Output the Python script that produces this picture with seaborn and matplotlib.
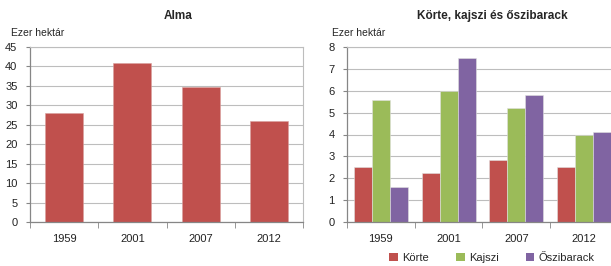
import matplotlib
matplotlib.use('Agg')
import matplotlib.pyplot as plt
import pandas as pd
import seaborn as sns
from matplotlib.patches import Patch

years = ['1959', '2001', '2007', '2012']
alma = [28.0, 41.0, 34.8, 26.0]
korte = [2.5, 2.25, 2.85, 2.5]
kajszi = [5.6, 6.0, 5.2, 4.0]
oszibarack = [1.6, 7.5, 5.8, 4.1]
fruit_names = ['Körte', 'Kajszi', 'Őszibarack']

red = '#C0504D'
green = '#9BBB59'
purple = '#8064A2'

sns.set_style('white')
plt.rcParams['font.family'] = ['Liberation Sans', 'DejaVu Sans']

df_alma = pd.DataFrame({'year': years, 'value': alma})
df_fruit = pd.DataFrame({
    'year': years * 3,
    'fruit': [f for f in fruit_names for _ in years],
    'value': korte + kajszi + oszibarack,
})

fig = plt.figure(figsize=(6.11, 2.66), dpi=100)
ax1 = fig.add_axes([30 / 611, 44 / 266, 273 / 611, 175 / 266])
ax2 = fig.add_axes([347 / 611, 44 / 266, 271 / 611, 175 / 266])

sns.barplot(data=df_alma, x='year', y='value', color=red, saturation=1,
            width=0.56, ax=ax1, edgecolor='#D9A09E', linewidth=0.4)
sns.barplot(data=df_fruit, x='year', y='value', hue='fruit',
            palette=[red, green, purple], saturation=1, width=0.8,
            ax=ax2, edgecolor='#E0E0E0', linewidth=0.4, legend=False)


def style(ax, ymax, step):
    ax.set_xlim(-0.5, 3.5)
    ax.set_ylim(0, ymax)
    ax.set_yticks([i * step for i in range(int(ymax / step) + 1)])
    ax.set_xlabel('')
    ax.set_ylabel('')
    ax.grid(axis='y', color='#BDBDBD', linewidth=0.8)
    ax.set_axisbelow(True)
    ax.set_xticks([0, 1, 2, 3])
    ax.set_xticks([-0.5, 0.5, 1.5, 2.5, 3.5], minor=True)
    ax.tick_params(axis='x', which='major', length=0, pad=9, labelsize=8,
                   colors='#222222')
    ax.tick_params(axis='x', which='minor', length=4, color='#868686',
                   direction='out', bottom=True)
    ax.tick_params(axis='y', length=3, color='#868686', labelsize=8,
                   pad=6, colors='#222222', left=True)
    ax.tick_params(axis='y', color='#868686')
    for side in ['left', 'bottom']:
        ax.spines[side].set_color('#868686')
        ax.spines[side].set_linewidth(0.9)
    for side in ['top', 'right']:
        ax.spines[side].set_color('#BDBDBD')
        ax.spines[side].set_linewidth(0.8)


style(ax1, 45, 5)
style(ax2, 8, 1)

fig.text(178 / 611, 1 - 16 / 266, 'Alma', ha='center', va='center',
         fontsize=8.5, fontweight='bold')
fig.text(492 / 611, 1 - 16 / 266, 'Körte, kajszi és őszibarack',
         ha='center', va='center', fontsize=8.5, fontweight='bold')
fig.text(11 / 611, 1 - 33 / 266, 'Ezer hektár', ha='left', va='center',
         fontsize=7.5)
fig.text(332 / 611, 1 - 33 / 266, 'Ezer hektár', ha='left', va='center',
         fontsize=7.5)

handles = [Patch(facecolor=c, edgecolor='none') for c in [red, green, purple]]
fig.legend(handles, fruit_names, loc='center', ncol=3,
           bbox_to_anchor=(492 / 611, 8 / 266), frameon=False, fontsize=8,
           handlelength=0.8, handleheight=0.8, handletextpad=0.4,
           columnspacing=2.4, borderaxespad=0)

fig.savefig('out.png', dpi=100)
